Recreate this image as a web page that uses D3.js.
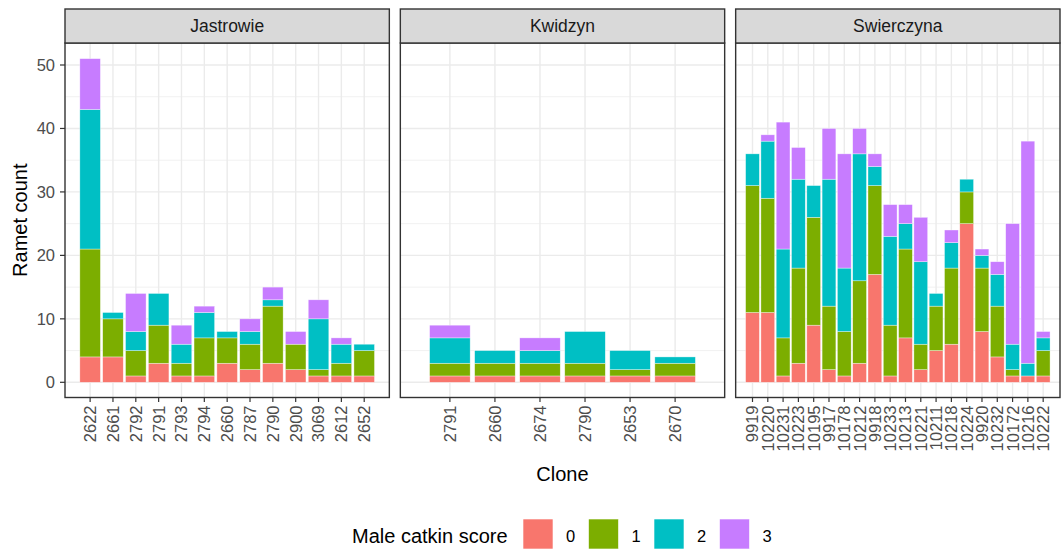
<!DOCTYPE html>
<html><head><meta charset="utf-8">
<script src="https://cdn.jsdelivr.net/npm/d3@7"></script>
<style>
html,body{margin:0;padding:0;background:#fff;}
svg text{font-family:"Liberation Sans",Arial,sans-serif;}
</style></head>
<body>
<svg id="chart" width="1064" height="552"></svg>
<script>
const regions = ["Jastrowie", "Kwidzyn", "Swierczyna"];
const scores = ["0", "1", "2", "3"];
const colors = ["#F8766D", "#7CAE00", "#00BFC4", "#C77CFF"];
const yTicks = [0, 10, 20, 30, 40, 50];

const jastrowieClones = ["2622","2661","2792","2791","2793","2794","2660","2787","2790","2900","3069","2612","2652"];
const jastrowieS0 = [4,4,1,3,1,1,3,2,3,2,1,1,1];
const jastrowieS1 = [17,6,4,6,2,6,4,4,9,4,1,2,4];
const jastrowieS2 = [22,1,3,5,3,4,1,2,1,0,8,3,1];
const jastrowieS3 = [8,0,6,0,3,1,0,2,2,2,3,1,0];

const kwidzynClones = ["2791","2660","2674","2790","2653","2670"];
const kwidzynS0 = [1,1,1,1,1,1];
const kwidzynS1 = [2,2,2,2,1,2];
const kwidzynS2 = [4,2,2,5,3,1];
const kwidzynS3 = [2,0,2,0,0,0];

const swierczynaClones = ["9919","10220","10231","10223","10195","9917","10178","10212","9918","10233","10213","10221","10211","10218","10224","9920","10232","10172","10216","10222"];
const swierczynaS0 = [11,11,1,3,9,2,1,3,17,1,7,2,5,6,25,8,4,1,1,1];
const swierczynaS1 = [20,18,6,15,17,10,7,13,14,8,14,4,7,12,5,10,8,1,0,4];
const swierczynaS2 = [5,9,14,14,5,20,10,20,3,14,4,13,2,4,2,2,5,4,2,2];
const swierczynaS3 = [0,1,20,5,0,8,18,4,2,5,3,7,0,2,0,1,2,19,35,1];

const panelData = [
  {clones: jastrowieClones, s: [jastrowieS0, jastrowieS1, jastrowieS2, jastrowieS3]},
  {clones: kwidzynClones, s: [kwidzynS0, kwidzynS1, kwidzynS2, kwidzynS3]},
  {clones: swierczynaClones, s: [swierczynaS0, swierczynaS1, swierczynaS2, swierczynaS3]}
];

const svg = d3.select("#chart");
const left = 65, right = 1060, gap = 11;
const panelW = (right - left - 2 * gap) / 3;
const stripTop = 9, panelTop = 43, panelBottom = 397.5;

const y = d3.scaleLinear().domain([0, 50]).range([382.3, 65]);
const yMinor = [5, 15, 25, 35, 45];

panelData.forEach((pd, pi) => {
  const x0 = left + pi * (panelW + gap);
  const g = svg.append("g").attr("transform", `translate(${x0},0)`);
  const x = d3.scaleBand().domain(pd.clones).range([0, panelW]).paddingInner(0.1).paddingOuter(0.65);

  g.append("rect").attr("x", 0).attr("y", panelTop).attr("width", panelW).attr("height", panelBottom - panelTop).attr("fill", "#fff");

  g.selectAll(".ymin").data(yMinor).enter().append("line")
    .attr("x1", 0).attr("x2", panelW).attr("y1", d => y(d)).attr("y2", d => y(d))
    .attr("stroke", "#EBEBEB").attr("stroke-width", 0.7);
  g.selectAll(".ymaj").data(yTicks).enter().append("line")
    .attr("x1", 0).attr("x2", panelW).attr("y1", d => y(d)).attr("y2", d => y(d))
    .attr("stroke", "#EBEBEB").attr("stroke-width", 1.4);
  g.selectAll(".xmaj").data(pd.clones).enter().append("line")
    .attr("x1", d => x(d) + x.bandwidth() / 2).attr("x2", d => x(d) + x.bandwidth() / 2)
    .attr("y1", panelTop).attr("y2", panelBottom)
    .attr("stroke", "#EBEBEB").attr("stroke-width", 1.4);

  const rows = pd.clones.map((c, i) => {
    const r = {clone: c};
    scores.forEach((s, k) => r[s] = pd.s[k][i]);
    return r;
  });
  const stacked = d3.stack().keys(scores)(rows);
  stacked.forEach((layer, k) => {
    g.selectAll(".bar" + k).data(layer.filter(d => d[1] - d[0] > 0)).enter().append("rect")
      .attr("x", d => x(d.data.clone))
      .attr("width", x.bandwidth())
      .attr("y", d => y(d[1]))
      .attr("height", d => y(d[0]) - y(d[1]))
      .attr("fill", colors[k])
      .attr("stroke", "#ffffff").attr("stroke-opacity", 0.6).attr("stroke-width", 0.6);
  });

  g.append("rect").attr("x", 0).attr("y", panelTop).attr("width", panelW).attr("height", panelBottom - panelTop)
    .attr("fill", "none").attr("stroke", "#333333").attr("stroke-width", 1.4);

  g.append("rect").attr("x", 0).attr("y", stripTop).attr("width", panelW).attr("height", panelTop - stripTop)
    .attr("fill", "#D9D9D9").attr("stroke", "#333333").attr("stroke-width", 1.4);
  g.append("text").attr("x", panelW / 2).attr("y", (stripTop + panelTop) / 2).attr("dy", "0.36em")
    .attr("text-anchor", "middle").attr("font-size", 17.5).attr("fill", "#1A1A1A").text(regions[pi]);

  pd.clones.forEach(c => {
    const cx = x(c) + x.bandwidth() / 2;
    g.append("line").attr("x1", cx).attr("x2", cx).attr("y1", panelBottom).attr("y2", panelBottom + 4.5)
      .attr("stroke", "#333333").attr("stroke-width", 1.2);
    g.append("text").attr("transform", `translate(${cx},${panelBottom + 8}) rotate(-90)`)
      .attr("text-anchor", "end").attr("dy", "0.36em").attr("font-size", 16.5).attr("fill", "#4D4D4D").text(c);
  });

  if (pi === 0) {
    yTicks.forEach(t => {
      g.append("line").attr("x1", -5).attr("x2", 0).attr("y1", y(t)).attr("y2", y(t))
        .attr("stroke", "#333333").attr("stroke-width", 1.2);
      g.append("text").attr("x", -10).attr("y", y(t)).attr("dy", "0.36em").attr("text-anchor", "end")
        .attr("font-size", 16.5).attr("fill", "#4D4D4D").text(t);
    });
  }
});

svg.append("text").attr("transform", `translate(20,${(panelTop + panelBottom) / 2}) rotate(-90)`)
  .attr("text-anchor", "middle").attr("dy", "0.36em").attr("font-size", 20).attr("fill", "#000").text("Ramet count");
svg.append("text").attr("x", (left + right) / 2).attr("y", 474).attr("dy", "0.36em")
  .attr("text-anchor", "middle").attr("font-size", 20).attr("fill", "#000").text("Clone");

const legendKeys = [523, 588.5, 654, 719.5];
svg.append("text").attr("x", 352).attr("y", 536).attr("dy", "0.36em").attr("font-size", 20).attr("fill", "#000").text("Male catkin score");
scores.forEach((s, k) => {
  svg.append("rect").attr("x", legendKeys[k]).attr("y", 519).attr("width", 30).attr("height", 30)
    .attr("fill", colors[k]).attr("stroke", "#fff").attr("stroke-width", 0.6);
  svg.append("text").attr("x", legendKeys[k] + 43).attr("y", 536).attr("dy", "0.36em")
    .attr("font-size", 16.5).attr("fill", "#000").text(s);
});
</script>
</body></html>
